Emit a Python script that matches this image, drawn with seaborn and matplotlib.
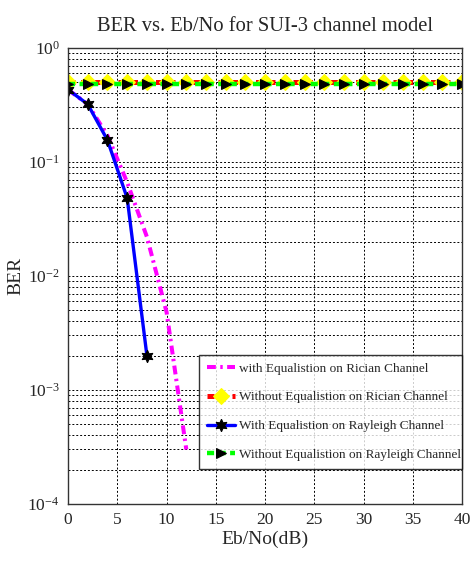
import numpy as np
import pandas as pd
import matplotlib
matplotlib.use("Agg")
import matplotlib.pyplot as plt
import seaborn as sns
from matplotlib.ticker import LogLocator, MultipleLocator, NullFormatter

# ---- data ----
snr_eq = [0, 2, 4, 6, 8, 10, 12]
ber_eq_rician = [0.43, 0.32, 0.17, 0.066, 0.022, 0.0048, 0.0003]

snr_flat = [0, 2, 4, 6, 8, 10, 12, 14, 16, 18, 20, 22, 24, 26, 28, 30, 32, 34, 36, 38, 40]
ber_noeq_rician = [0.50, 0.50, 0.50, 0.50, 0.50, 0.50, 0.50, 0.50, 0.50, 0.50, 0.50,
                   0.50, 0.50, 0.50, 0.50, 0.50, 0.50, 0.50, 0.50, 0.50, 0.50]

snr_ray = [0, 2, 4, 6, 8]
ber_eq_rayleigh = [0.43, 0.32, 0.155, 0.048, 0.002]

ber_noeq_rayleigh = [0.48, 0.48, 0.48, 0.48, 0.48, 0.48, 0.48, 0.48, 0.48, 0.48, 0.48,
                     0.48, 0.48, 0.48, 0.48, 0.48, 0.48, 0.48, 0.48, 0.48, 0.48]

labels = ["with Equalistion on Rician Channel",
          "Without Equalistion on Rician Channel",
          "With Equalistion on Rayleigh Channel",
          "Without Equalistion on Rayleigh Channel"]

title = "BER vs. Eb/No for SUI-3 channel model"
xlabel = "Eb/No(dB)"
ylabel = "BER"

# ---- style ----
sns.set_style("white")
plt.rcParams["font.family"] = ["Liberation Serif", "DejaVu Serif"]
plt.rcParams["mathtext.fontset"] = "custom"
plt.rcParams["mathtext.rm"] = "Liberation Serif"
plt.rcParams["mathtext.it"] = "Liberation Serif:italic"

fig = plt.figure(figsize=(4.76, 5.63), dpi=100)
ax = fig.add_axes([0.143, 0.105, 0.828, 0.81])

hexagram = (6, 1, 0)

sns.lineplot(x=snr_eq, y=ber_eq_rician, ax=ax, color="#ff00ff",
             linestyle=(0, (2.2, 1.1, 0.6, 1.1)), linewidth=2.9, label=labels[0])
sns.lineplot(x=snr_flat, y=ber_noeq_rician, ax=ax, color="red",
             linestyle=(0, (1.4, 1.1)), linewidth=3.6, marker="D", markersize=8,
             markerfacecolor="yellow", markeredgecolor="yellow", label=labels[1])
sns.lineplot(x=snr_ray, y=ber_eq_rayleigh, ax=ax, color="blue", linestyle="-",
             linewidth=2.4, marker=hexagram, markersize=9, markerfacecolor="black",
             markeredgecolor="black", label=labels[2])
sns.lineplot(x=snr_flat, y=ber_noeq_rayleigh, ax=ax, color="#00ff00",
             linestyle=(0, (1.6, 1.0)), linewidth=3.2, marker=">", markersize=7,
             markerfacecolor="black", markeredgecolor="black", label=labels[3])

ax.set_yscale("log")
ax.set_xlim(0, 40)
ax.set_ylim(1e-4, 1)
ax.xaxis.set_major_locator(MultipleLocator(5))
ax.yaxis.set_major_locator(LogLocator(base=10, numticks=10))
ax.yaxis.set_minor_locator(LogLocator(base=10, subs=np.arange(2, 10), numticks=20))
ax.yaxis.set_minor_formatter(NullFormatter())

ax.grid(True, which="major", color="black", linestyle=(0, (2, 2)), linewidth=0.7)
ax.grid(True, which="minor", axis="y", color="black", linestyle=(0, (2, 2)), linewidth=0.7)

for s in ax.spines.values():
    s.set_color("#333333")
    s.set_linewidth(1.0)
ax.tick_params(which="both", direction="in", length=4, labelsize=12.5,
               top=False, right=False, pad=6)
ax.tick_params(which="minor", length=2)

ax.set_title(title, fontsize=14.8, pad=12)
ax.set_xlabel(xlabel, fontsize=14, labelpad=2)
ax.set_ylabel(ylabel, fontsize=14, labelpad=2)

leg = ax.legend(loc="lower left", bbox_to_anchor=(0.332, 0.077, 0.668, 0.252),
                mode="expand", fontsize=9.5, frameon=True, fancybox=False,
                edgecolor="black", borderaxespad=0, handlelength=2.1,
                handletextpad=0.3, labelspacing=1.25, borderpad=0.6)
leg.get_frame().set_linewidth(1.0)

fig.savefig("out.png", dpi=100, facecolor="white")
